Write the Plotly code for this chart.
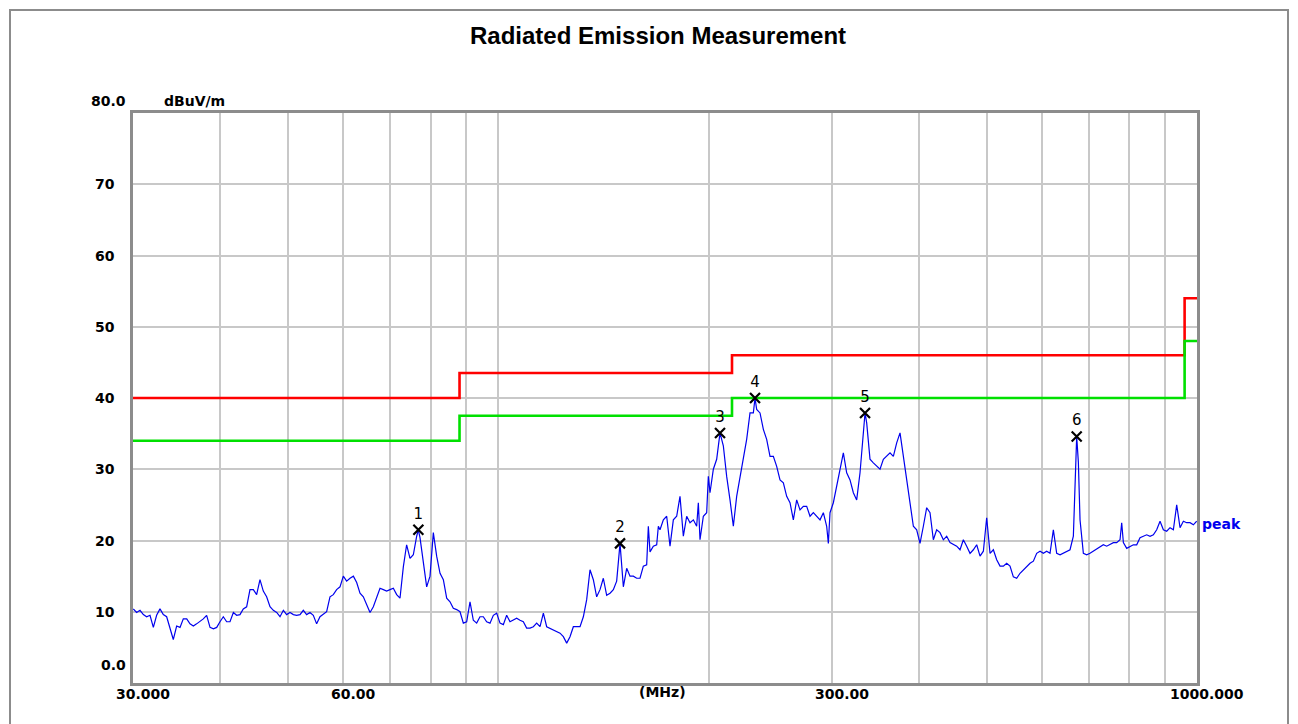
import math
import plotly.graph_objects as go

# ---------------- data ----------------
freq_mhz = [
    30.03, 30.36, 30.70, 31.04, 31.38, 31.73, 32.08, 32.43, 32.79, 33.15, 33.52, 33.89, 34.26, 34.64,
    35.03, 35.41, 35.81, 36.20, 36.60, 37.00, 37.41, 37.82, 38.24, 38.67, 39.10, 39.53, 39.96, 40.40,
    40.85, 41.30, 41.76, 42.22, 42.68, 43.15, 43.63, 44.11, 44.60, 45.09, 45.59, 46.09, 46.60, 47.12,
    47.64, 48.17, 48.70, 49.24, 49.78, 50.33, 50.89, 51.45, 52.02, 52.59, 53.17, 53.76, 54.35, 54.95,
    55.56, 56.17, 56.79, 57.42, 58.05, 58.69, 59.35, 60.00, 60.66, 61.34, 62.02, 62.70, 63.39, 64.09,
    64.80, 65.52, 66.24, 66.97, 67.71, 68.46, 69.21, 69.98, 70.75, 71.53, 72.32, 73.12, 73.92, 74.75,
    75.57, 76.41, 76.83, 77.25, 78.10, 78.97, 79.84, 80.72, 81.61, 82.52, 83.43, 84.35, 85.28, 86.22,
    87.17, 88.14, 89.11, 90.09, 91.09, 92.09, 93.11, 94.14, 95.18, 96.23, 97.30, 98.37, 99.45, 100.56,
    101.67, 102.79, 103.93, 105.07, 106.23, 107.41, 108.59, 109.79, 111.01, 112.23, 113.47, 114.73,
    116.00, 117.28, 118.57, 119.88, 121.20, 122.55, 123.90, 125.27, 126.65, 128.05, 129.47, 130.90,
    132.34, 133.80, 135.28, 136.77, 138.28, 139.81, 141.35, 142.91, 144.50, 146.09, 147.70, 149.34,
    150.99, 152.66, 154.34, 156.05, 157.77, 159.51, 161.27, 163.05, 163.95, 164.86, 166.68, 168.52,
    169.45, 170.38,
    172.27, 174.17, 176.09, 178.03, 180.00, 181.99, 184.00, 186.03, 188.09, 190.16, 192.26, 193.32,
    194.39, 196.53, 198.70, 199.80, 200.90, 203.12, 205.36, 207.63, 209.92, 212.24, 214.59, 216.96,
    219.35, 221.78, 224.23, 226.70, 229.21, 231.74, 233.02, 234.30, 236.89, 239.51, 242.15, 244.83,
    247.53, 250.27, 253.03, 255.83, 258.65, 261.51, 264.40, 267.32, 270.27, 273.26, 276.28, 279.33,
    282.41, 285.53, 288.69, 291.88, 295.10, 296.73, 298.36, 301.66, 304.99, 308.36, 311.77, 315.21,
    318.69, 322.21, 325.77, 329.37, 333.01, 334.85, 336.69, 340.40, 344.16, 347.97, 351.81, 355.70,
    359.63, 363.60, 367.62, 371.68, 375.78, 379.93, 384.13, 388.37, 392.66, 397.00, 401.38,
    405.82, 410.30, 414.83, 419.41, 424.04, 428.73, 433.46, 438.25, 443.10, 447.99, 452.94, 457.95,
    463.01, 468.12, 473.29, 478.52, 483.81, 489.15, 494.56, 500.02, 505.54, 511.13, 516.78, 522.48,
    528.25, 534.09, 539.99, 545.95, 551.98, 558.08, 564.25, 570.48, 576.78, 583.15, 589.59, 596.11,
    602.69, 609.35, 616.08, 622.88, 629.76, 636.73, 643.76, 650.87, 658.06, 665.33, 669.00, 672.68,
    676.39, 680.11, 687.62, 695.22, 702.90, 710.66, 718.51, 726.46, 734.48, 742.59, 750.80, 759.09,
    767.48, 775.96, 780.24, 784.53, 793.20, 801.96, 810.82, 819.77, 828.83, 837.99, 847.24, 856.60,
    866.06, 875.63, 885.31, 895.09, 904.97, 914.97, 925.08, 935.29, 945.63, 956.07, 966.63, 977.32,
    988.11, 999.00,
]
level_dbuv = [
    10.4, 9.9, 10.2, 9.6, 9.3, 9.5, 7.8, 9.5, 10.4, 9.6, 9.3, 7.8, 6.1, 8.0,
    7.8, 9.0, 9.0, 8.3, 8.0, 8.3, 8.6, 9.0, 9.5, 7.8, 7.6, 7.8, 8.6, 9.3,
    8.6, 8.6, 9.9, 9.5, 9.6, 10.4, 10.7, 13.1, 13.1, 12.4, 14.5, 12.9, 12.1, 10.7,
    10.2, 9.9, 9.3, 10.2, 9.6, 9.9, 9.6, 9.5, 9.6, 10.2, 9.6, 9.9, 9.5, 8.3,
    9.3, 9.6, 10.0, 12.1, 12.4, 13.1, 13.5, 15.0, 14.3, 14.7, 15.0, 14.1, 12.6, 12.1,
    10.9, 9.9, 10.7, 12.1, 13.3, 13.1, 12.9, 13.1, 13.3, 12.4, 11.9, 16.3, 19.4, 17.5,
    18.0, 20.6, 21.5, 20.4, 17.3, 13.5, 15.0, 21.1, 17.8, 15.4, 14.5, 11.9, 11.4, 10.5,
    10.3, 10.0, 8.4, 8.6, 11.4, 8.8, 8.4, 9.3, 9.3, 8.6, 8.4, 9.5, 9.8, 8.4,
    8.2, 9.5, 8.6, 8.8, 9.1, 8.8, 8.6, 7.7, 7.7, 7.9, 8.4, 7.9,
    9.8, 7.9, 7.7, 7.5, 7.2, 7.0, 6.5, 5.6, 6.5, 7.9, 7.9, 7.9,
    9.3, 11.7, 15.9, 14.5, 12.1, 13.1, 14.7, 12.3, 12.6, 13.1, 14.3, 19.6,
    13.5, 16.1, 15.0, 15.0, 14.7, 14.7, 16.4, 16.6, 22.0, 18.4, 19.2, 19.4,
    22.0, 21.5,
    22.9, 23.4, 19.2, 22.9, 23.4, 26.2, 20.6, 23.4, 22.5, 22.9, 22.0, 25.3,
    20.1, 23.4, 23.9, 29.0, 26.7, 30.0, 31.4, 35.1, 33.3, 29.0, 25.7, 22.0,
    26.2, 29.0, 31.8, 34.2, 37.9, 37.9, 40.0, 38.4, 37.9, 35.6, 34.2, 31.8,
    31.8, 30.4, 28.5, 28.1, 26.2, 25.3, 22.9, 25.7, 24.3, 24.8, 24.8, 23.4,
    23.9, 23.4, 22.9, 23.9, 22.0, 19.6, 23.9, 25.3, 27.6, 30.0, 32.3, 29.5,
    28.5, 26.7, 25.7, 29.5, 35.6, 37.9, 36.5, 31.4, 30.9, 30.4, 30.0, 31.4,
    31.8, 32.3, 31.8, 33.7, 35.1, 31.8, 29.0, 25.3, 22.0, 21.5, 19.6,
    22.0, 24.6, 23.9, 20.1, 21.5, 21.1, 20.1, 20.6, 19.7, 19.4, 19.2, 18.7,
    20.1, 19.2, 18.2, 18.7, 19.4, 17.8, 18.5, 23.2, 18.2, 18.7, 17.3, 16.4,
    16.4, 16.8, 16.4, 14.9, 14.7, 15.4, 15.9, 16.4, 16.8, 17.1, 18.2, 18.5,
    18.2, 18.5, 18.2, 21.5, 18.2, 18.0, 18.2, 18.5, 18.7, 20.6, 28.6, 34.6,
    31.0, 22.9, 18.2, 18.0, 18.2, 18.5, 18.9, 19.2, 19.4, 19.2, 19.4, 19.7,
    19.7, 20.1, 22.5, 19.7, 18.9, 19.2, 19.4, 19.4, 20.4, 20.6, 20.8, 20.6,
    20.8, 21.5, 22.7, 21.5, 21.3, 21.8, 21.5, 25.0, 21.8, 22.7, 22.5, 22.5,
    22.2, 22.7,
]

limit_freq = [30, 88, 88, 216, 216, 960, 960, 1000]
limit_qp = [40, 40, 43.5, 43.5, 46, 46, 54, 54]
limit_margin = [34, 34, 37.5, 37.5, 40, 40, 48, 48]

marker_freq = [76.83, 149.34, 207.63, 233.02, 334.85, 672.68]
marker_level = [21.5, 19.6, 35.1, 40.0, 37.9, 34.6]
marker_label = ["1", "2", "3", "4", "5", "6"]

grid_freqs = [40, 50, 60, 70, 80, 90, 100, 200, 300, 400, 500, 600, 700, 800, 900]
x_tick_vals = [30, 60, 300, 1000]
x_tick_text = ["30.000", "60.00", "300.00", "1000.000"]
y_tick_vals = [80, 70, 60, 50, 40, 30, 20, 10, 0]
y_tick_text = ["80.0", "70", "60", "50", "40", "30", "20", "10", "0.0"]

# ---------------- figure ----------------
OFF = 8                      # page body margin around the plot div
W, H = 1298 - OFF, 724 - OFF  # figure size
# plot area in page pixels
L, R, T, B = 133, 1197, 113, 683


def px_x(px):
    return (px - L) / (R - L)


def px_y(py):
    return (B - py) / (B - T)


fig = go.Figure()
fig.add_trace(go.Scatter(x=limit_freq, y=limit_qp, mode="lines",
                         line=dict(color="#ff0000", width=2.6), hoverinfo="skip"))
fig.add_trace(go.Scatter(x=limit_freq, y=limit_margin, mode="lines",
                         line=dict(color="#00e000", width=2.6), hoverinfo="skip"))
fig.add_trace(go.Scatter(x=freq_mhz, y=level_dbuv, mode="lines",
                         line=dict(color="#0000ee", width=1.2)))
fig.add_trace(go.Scatter(x=marker_freq, y=marker_level, mode="markers+text",
                         text=marker_label, textposition="top center",
                         textfont=dict(family="DejaVu Sans", size=15, color="black"),
                         marker=dict(symbol="x-thin", size=10, color="black",
                                     line=dict(width=2.2, color="black"))))

axis_font = dict(family="DejaVu Sans", size=14, color="black")
ann = []
ann.append(dict(xref="paper", yref="paper", x=px_x(658), y=px_y(35),
                text="<b>Radiated Emission Measurement</b>", showarrow=False,
                font=dict(family="Liberation Sans", size=24, color="black"),
                xanchor="center", yanchor="middle"))
ann.append(dict(xref="paper", yref="paper", x=px_x(162), y=px_y(101),
                text="<b>dBuV/m</b>", showarrow=False, font=axis_font,
                xanchor="left", yanchor="middle"))
for v, t in zip(y_tick_vals, y_tick_text):
    if "." in t:
        shift = 12 if v > 0 else 18
        ann.append(dict(xref="paper", yref="y", x=px_x(128), y=v, yshift=shift,
                        text="<b>" + t + "</b>", showarrow=False, font=axis_font,
                        xanchor="right", yanchor="middle"))
    else:
        ann.append(dict(xref="paper", yref="y", x=px_x(93), y=v,
                        text="<b>" + t + "</b>", showarrow=False, font=axis_font,
                        xanchor="left", yanchor="middle"))
for v, t in zip(x_tick_vals, x_tick_text):
    ann.append(dict(xref="x", yref="paper", x=math.log10(v), y=px_y(694), xshift=10,
                    text="<b>" + t + "</b>", showarrow=False, font=axis_font,
                    xanchor="center", yanchor="middle"))
ann.append(dict(xref="paper", yref="paper", x=px_x(662), y=px_y(692),
                text="<b>(MHz)</b>", showarrow=False, font=axis_font,
                xanchor="center", yanchor="middle"))
ann.append(dict(xref="paper", yref="paper", x=px_x(1200), y=px_y(524),
                text="<b>peak</b>", showarrow=False,
                font=dict(family="DejaVu Sans", size=14, color="#0000ee"),
                xanchor="left", yanchor="middle"))

fig.update_layout(
    width=W, height=H, autosize=False,
    margin=dict(l=L - OFF, r=W - (R - OFF), t=T - OFF, b=H - (B - OFF)),
    paper_bgcolor="white", plot_bgcolor="white",
    showlegend=False,
    annotations=ann,
    shapes=[dict(type="rect", xref="paper", yref="paper",
                 x0=px_x(10), x1=px_x(1288), y0=px_y(740), y1=px_y(10),
                 line=dict(color="#8c8c8c", width=2), layer="below")],
)
fig.update_xaxes(type="log", range=[math.log10(30), math.log10(1000)],
                 tickvals=grid_freqs, showticklabels=False, ticks="",
                 showgrid=True, gridcolor="#c8c8c8", gridwidth=1.5,
                 showline=True, linecolor="#8c8c8c", linewidth=3, mirror=True,
                 zeroline=False)
fig.update_yaxes(range=[0, 80], tickvals=y_tick_vals, showticklabels=False, ticks="",
                 showgrid=True, gridcolor="#c8c8c8", gridwidth=1.5,
                 showline=True, linecolor="#8c8c8c", linewidth=3, mirror=True,
                 zeroline=False)

fig.write_html("out.html")
